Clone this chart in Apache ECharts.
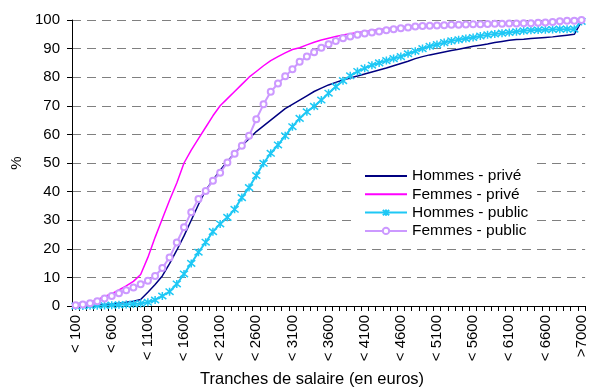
<!DOCTYPE html>
<html>
<head>
<meta charset="utf-8">
<title>Tranches de salaire</title>
<script src="https://cdn.jsdelivr.net/npm/echarts@6/dist/echarts.min.js"></script>
<style>
  html, body { margin: 0; padding: 0; background: #fff; }
  #chart { width: 589px; height: 389px; }
</style>
</head>
<body>
<div id="chart"></div>
<script>
// Salary brackets: "< 100" ... "< 7000", then ">7000"
const categories = [];
for (let s = 100; s <= 7000; s += 100) categories.push('< ' + s);
categories.push('>7000');

// Cumulative share of employees (%) per salary bracket
const hommesPrive = [
  0.1, 0.1, 0.2, 0.3, 0.5, 0.7, 1.0, 1.3, 1.7, 2.3,
  4.8, 7.5, 10.5, 14.8, 19.5, 24.5, 30.0, 35.5, 40.5, 44.0,
  47.5, 50.5, 53.5, 56.0, 58.5, 61.0, 63.0, 65.0, 67.0, 69.0,
  70.5, 72.0, 73.5, 75.0, 76.2, 77.3, 78.2, 79.0, 79.7, 80.4,
  81.1, 81.8, 82.5, 83.2, 84.0, 84.8, 85.6, 86.5, 87.2, 87.8,
  88.3, 88.8, 89.3, 89.8, 90.3, 90.8, 91.2, 91.6, 92.1, 92.5,
  92.9, 93.2, 93.3, 93.5, 93.7, 93.9, 94.1, 94.4, 94.7, 95.0,
  99.5
];
const femmesPrive = [
  0.3, 0.6, 1.2, 2.2, 3.3, 4.3, 5.6, 7.0, 8.6, 11.0,
  17.0, 24.0, 30.5, 37.0, 43.0, 50.0, 54.5, 58.5, 62.5, 66.5,
  70.0, 72.5, 75.0, 77.5, 80.0, 82.0, 84.0, 85.8, 87.2, 88.5,
  89.7, 90.3, 91.3, 92.2, 93.0, 93.6, 94.2, 94.8, 95.2, 95.6,
  95.9, 96.3, 96.6, 96.9, 97.2, 97.5, 97.8, 98.0, 98.2, 98.3,
  98.4, 98.5, 98.5, 98.6, 98.6, 98.7, 98.7, 98.8, 98.8, 98.9,
  98.9, 99.0, 99.0, 99.1, 99.1, 99.2, 99.2, 99.3, 99.3, 99.4,
  100.0
];
const hommesPublic = [
  0.0, 0.0, 0.1, 0.1, 0.2, 0.3, 0.4, 0.5, 0.7, 0.9,
  1.3, 2.1, 3.5, 5.0, 7.7, 11.2, 14.9, 18.8, 22.3, 26.0,
  28.7, 31.0, 33.8, 37.9, 41.4, 45.6, 49.9, 53.4, 56.3, 59.5,
  62.7, 65.6, 67.9, 69.8, 72.0, 74.4, 76.7, 78.8, 80.5, 82.0,
  83.1, 84.2, 85.0, 85.8, 86.5, 87.2, 88.2, 89.1, 90.0, 90.8,
  91.4, 92.1, 92.7, 93.1, 93.5, 93.9, 94.4, 94.8, 95.1, 95.4,
  95.6, 95.9, 96.2, 96.4, 96.5, 96.6, 96.7, 96.8, 96.8, 96.8,
  99.5
];
const femmesPublic = [
  0.3, 0.5, 1.0, 1.7, 2.6, 3.5, 4.5, 5.5, 6.5, 7.6,
  8.8, 10.5, 13.3, 17.0, 22.2, 27.5, 32.8, 37.4, 40.2, 43.8,
  46.6, 50.2, 53.2, 56.0, 59.5, 65.3, 70.5, 74.9, 77.8, 80.3,
  82.8, 85.4, 87.2, 88.7, 90.3, 91.5, 92.7, 93.6, 94.2, 94.8,
  95.3, 95.6, 96.0, 96.4, 96.8, 97.1, 97.4, 97.7, 97.9, 98.0,
  98.1, 98.2, 98.3, 98.3, 98.4, 98.5, 98.5, 98.6, 98.7, 98.7,
  98.8, 98.8, 98.9, 98.9, 99.0, 99.1, 99.3, 99.6, 99.7, 99.7,
  100.0
];

const yTicks = { min: 0, max: 100, interval: 10 };

const FONT = '"Liberation Sans", Arial, sans-serif';
// asterisk marker: an X crossed by a vertical stroke
const STAR = 'path://M1,1L9,9M9,1L1,9M5,0L5,10';

const NAVY = '#000080', MAGENTA = '#FF00FF', SKY = '#1EC8F5', LAVENDER = '#CC99FF';

const chart = echarts.init(document.getElementById('chart'), null, { renderer: 'canvas' });

chart.setOption({
  animation: false,
  backgroundColor: '#ffffff',
  textStyle: { fontFamily: FONT, color: '#000' },
  grid: { left: 72, right: 3, top: 20, bottom: 83, containLabel: false },
  legend: {
    orient: 'vertical',
    left: 357,
    top: 162,
    padding: [6, 6, 6, 7],
    itemGap: 2.3,
    itemWidth: 42,
    itemHeight: 8,
    backgroundColor: '#ffffff',
    textStyle: { fontFamily: FONT, fontSize: 15.5, color: '#000' },
    data: [
      { name: 'Hommes - privé', itemStyle: { opacity: 0 } },
      { name: 'Femmes - privé', itemStyle: { opacity: 0 } },
      { name: 'Hommes - public' },
      { name: 'Femmes - public' }
    ]
  },
  xAxis: {
    type: 'category',
    data: categories,
    boundaryGap: true,
    axisLine: { lineStyle: { color: '#000', width: 1 } },
    axisTick: { show: true, interval: 0, length: 5, alignWithLabel: false, lineStyle: { color: '#000' } },
    axisLabel: { interval: 4, rotate: 90, margin: 9, fontSize: 15, fontFamily: FONT, color: '#000' },
    splitLine: { show: false }
  },
  yAxis: {
    type: 'value',
    min: yTicks.min,
    max: yTicks.max,
    interval: yTicks.interval,
    name: '%',
    nameLocation: 'middle',
    nameRotate: 90,
    nameGap: 46,
    nameTextStyle: { fontSize: 15, fontFamily: FONT, color: '#000' },
    axisLine: { show: true, lineStyle: { color: '#000', width: 1 } },
    axisTick: { show: true, length: 5, lineStyle: { color: '#000' } },
    axisLabel: { margin: 12, fontSize: 15, fontFamily: FONT, color: '#000' },
    splitLine: { show: true, lineStyle: { color: '#808080', type: [9, 6], width: 1 } }
  },
  graphic: [{
    type: 'text',
    left: 200,
    top: 371,
    style: { text: 'Tranches de salaire (en euros)', font: '16.5px ' + FONT, fill: '#000' }
  }],
  series: [
    {
      name: 'Hommes - privé',
      type: 'line',
      data: hommesPrive,
      showSymbol: false,
      symbol: 'none',
      color: NAVY,
      lineStyle: { color: NAVY, width: 1.5, type: 'solid' }
    },
    {
      name: 'Femmes - privé',
      type: 'line',
      data: femmesPrive,
      showSymbol: false,
      symbol: 'none',
      color: MAGENTA,
      lineStyle: { color: MAGENTA, width: 1.5, type: 'solid' }
    },
    {
      name: 'Hommes - public',
      type: 'line',
      data: hommesPublic,
      symbol: STAR,
      symbolSize: 8,
      showAllSymbol: true,
      color: SKY,
      itemStyle: { color: SKY, borderColor: SKY, borderWidth: 1.5 },
      lineStyle: { color: SKY, width: 2, type: 'solid' }
    },
    {
      name: 'Femmes - public',
      type: 'line',
      data: femmesPublic,
      symbol: 'emptyCircle',
      symbolSize: 6,
      showAllSymbol: true,
      color: LAVENDER,
      itemStyle: { color: LAVENDER, borderWidth: 1.5 },
      lineStyle: { color: LAVENDER, width: 2, type: 'solid' }
    }
  ]
});
</script>
</body>
</html>
